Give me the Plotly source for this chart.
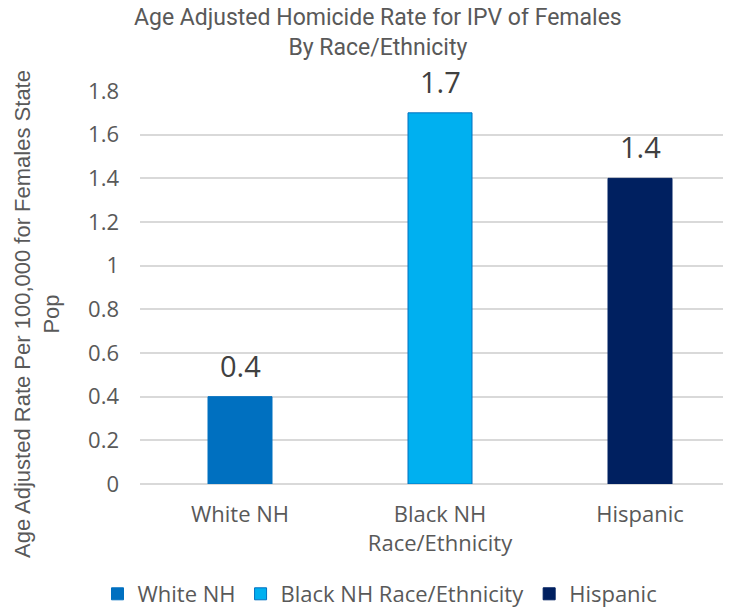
import plotly.graph_objects as go

categories = ["White NH", "Black NH Race/Ethnicity", "Hispanic"]
tick_labels = ["White NH", "Black NH<br>Race/Ethnicity", "Hispanic"]
rates = [0.4, 1.7, 1.4]
colors = ["#0070C0", "#00B0F0", "#002060"]
edge_colors = ["#0070C0", "#0070C0", "#002060"]
y_ticks = [0, 0.2, 0.4, 0.6, 0.8, 1, 1.2, 1.4, 1.6, 1.8]

FONT = "Open Sans"
GREY = "#595959"

# plot area in paper px (page adds an 8px body margin)
L, T, B = 132, 83, 476
PW, PH = 731 - L, B - T

fig = go.Figure()
for name, lab, val, col, edge in zip(categories, tick_labels, rates, colors, edge_colors):
    fig.add_trace(go.Bar(
        x=[lab], y=[val], name=name, width=0.32,
        marker=dict(color=col, line=dict(color=edge, width=1)),
    ))
    # value label above each bar
    fig.add_annotation(x=lab, y=val, text=f"{val:.1f}", showarrow=False,
                       yanchor="bottom", yshift=10,
                       font=dict(size=29, color="#404040", family=FONT))

fig.update_layout(
    width=731, height=609, barmode="overlay",
    plot_bgcolor="white", paper_bgcolor="white",
    margin=dict(l=L, r=0, t=T, b=609 - B, autoexpand=False),
    font=dict(family=FONT, color=GREY),
    xaxis=dict(range=[-0.5, 2.495], showgrid=False, ticks="", showline=False,
               tickfont=dict(size=22, color=GREY), ticklabelstandoff=15, automargin=False),
    yaxis=dict(range=[0, 1.8], tickvals=y_ticks, ticktext=[f"{v:g}" for v in y_ticks],
               showgrid=True, gridcolor="#D9D9D9", gridwidth=1.5,
               zeroline=True, zerolinecolor="#D9D9D9", zerolinewidth=1.5,
               tickfont=dict(size=22, color=GREY), ticklabelstandoff=20,
               automargin=False),
    legend=dict(orientation="h", x=(372 - L) / PW, xanchor="center",
                y=(B - 586) / PH, yanchor="middle",
                font=dict(size=22, color=GREY)),
)

# title, two lines
fig.add_annotation(text="Age Adjusted Homicide Rate for IPV of Females<br>By Race/Ethnicity",
                   xref="paper", yref="paper", x=(370 - L) / PW, y=(B - 25) / PH,
                   xanchor="center", yanchor="middle", showarrow=False,
                   font=dict(size=23, color=GREY, family="Roboto"))

# y axis title
fig.add_annotation(text="Age Adjusted Rate Per 100,000 for Females State<br>Pop",
                   textangle=-90, xref="paper", yref="paper",
                   x=(29 - L) / PW, y=(B - 306) / PH,
                   xanchor="center", yanchor="middle", showarrow=False,
                   font=dict(size=22, color=GREY, family="Liberation Sans"))

fig.write_html("out.html")
